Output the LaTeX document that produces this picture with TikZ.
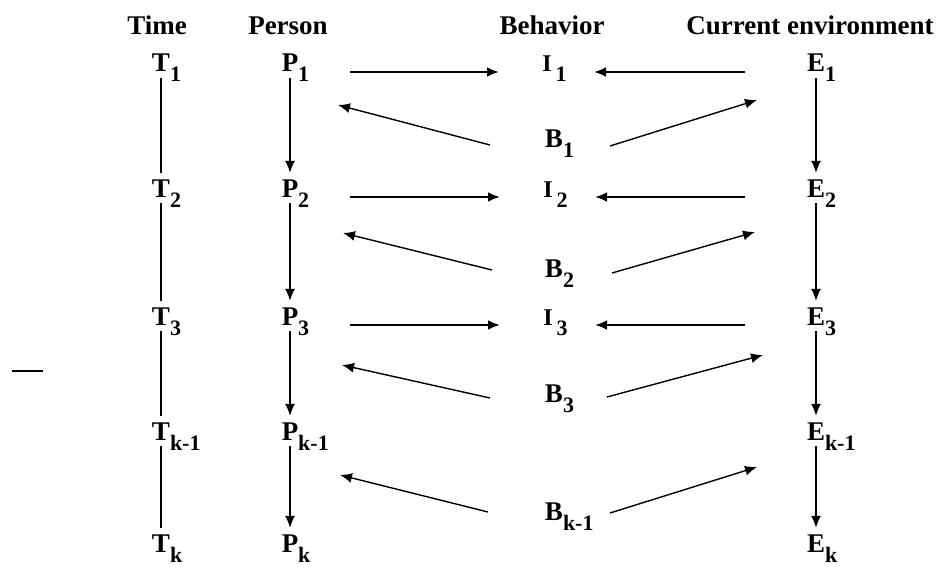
\documentclass[tikz,border=0pt]{standalone}
\usepackage{fontspec}
\setmainfont{Liberation Serif}
\usepackage{tikz}
\usetikzlibrary{arrows.meta}

\newcommand{\lbl}[2]{#1\rlap{\raisebox{-10pt}{\fontsize{22}{22}\selectfont #2}}}

\begin{document}
\begin{tikzpicture}[>={Latex[length=12pt,width=10pt]}, x=1pt, y=-1pt,
    head/.style={anchor=base, inner sep=0pt, font=\fontsize{27}{30}\selectfont\bfseries},
    var/.style={anchor=base, inner sep=0pt, text height=19pt, text depth=0pt,
        font=\fontsize{27}{30}\selectfont\bfseries},
    ivar/.style={var, font=\fontsize{24}{26}\selectfont\bfseries},
    link/.style={line width=1.4pt, shorten <=6pt, shorten >=5pt},
    pi/.style={->, line width=2.4pt, shorten <=60pt, shorten >=50pt},
    ei/.style={->, line width=2.4pt, shorten <=71pt, shorten >=45pt},
    back/.style={->, line width=1.4pt}]
    \useasboundingbox (0,0) rectangle (946,567);

    % 1. Column titles
    \node[head] (hTime) at (157,35) {Time};
    \node[head] (hPerson) at (288,35) {Person};
    \node[head] (hBehavior) at (552,35) {Behavior};
    \node[head] (hEnv) at (810,35) {Current environment};

    % 2. Time
    \node[var] (T1) at (161,72) {\lbl{T}{1}};
    \node[var] (T2) at (161,197) {\lbl{T}{2}};
    \node[var] (T3) at (161,325) {\lbl{T}{3}};
    \node[var] (Tk1) at (161,440) {\lbl{T}{k-1}};
    \node[var] (Tk) at (161,552) {\lbl{T}{k}};

    % 3. Person
    \node[var] (P1) at (290,72) {\lbl{P}{1}};
    \node[var] (P2) at (290,197) {\lbl{P}{2}};
    \node[var] (P3) at (290,325) {\lbl{P}{3}};
    \node[var] (Pk1) at (290,440) {\lbl{P}{k-1}};
    \node[var] (Pk) at (290,552) {\lbl{P}{k}};

    % 4. Behavior
    \node[ivar] (I1) at (549,72) {\lbl{I\,}{1}};
    \node[var] (B1) at (554,148) {\lbl{B}{1}};
    \node[ivar] (I2) at (550,197) {\lbl{I\,}{2}};
    \node[var] (B2) at (554,277) {\lbl{B}{2}};
    \node[ivar] (I3) at (550,325) {\lbl{I\,}{3}};
    \node[var] (B3) at (554,402) {\lbl{B}{3}};
    \node[var] (Bk1) at (554,520) {\lbl{B}{k-1}};

    % 5. Current environment
    \node[var] (E1) at (816,72) {\lbl{E}{1}};
    \node[var] (E2) at (816,197) {\lbl{E}{2}};
    \node[var] (E3) at (816,325) {\lbl{E}{3}};
    \node[var] (Ek1) at (816,440) {\lbl{E}{k-1}};
    \node[var] (Ek) at (816,552) {\lbl{E}{k}};

    % 6. Vertical links
    \draw[link] (T1) -- (T2);
    \draw[link] (T2) -- (T3);
    \draw[link] (T3) -- (Tk1);
    \draw[link] (Tk1) -- (Tk);
    \draw[link, ->] (P1) -- (P2);
    \draw[link, ->] (P2) -- (P3);
    \draw[link, ->] (P3) -- (Pk1);
    \draw[link, ->] (Pk1) -- (Pk);
    \draw[link, ->] (E1) -- (E2);
    \draw[link, ->] (E2) -- (E3);
    \draw[link, ->] (E3) -- (Ek1);
    \draw[link, ->] (Ek1) -- (Ek);

    % 7. Person and environment into behavior
    \draw[pi] (P1.base) -- (I1.base);
    \draw[pi] (P2.base) -- (I2.base);
    \draw[pi] (P3.base) -- (I3.base);
    \draw[ei] (E1.base) -- (I1.base);
    \draw[ei] (E2.base) -- (I2.base);
    \draw[ei] (E3.base) -- (I3.base);

    % 8. Behavior back to person and environment
    \draw[back] ([shift={(-64,-3)}]B1.base) -- ([shift={(-216,-43)}]B1.base);
    \draw[back] ([shift={(56,-2)}]B1.base) -- ([shift={(203,-48)}]B1.base);
    \draw[back] ([shift={(-62,-7)}]B2.base) -- ([shift={(-211,-44)}]B2.base);
    \draw[back] ([shift={(58,-4)}]B2.base) -- ([shift={(201,-45)}]B2.base);
    \draw[back] ([shift={(-64,-4)}]B3.base) -- ([shift={(-212,-37)}]B3.base);
    \draw[back] ([shift={(53,-5)}]B3.base) -- ([shift={(209,-47)}]B3.base);
    \draw[back] ([shift={(-66,-8)}]Bk1.base) -- ([shift={(-214,-45)}]Bk1.base);
    \draw[back] ([shift={(56,-7)}]Bk1.base) -- ([shift={(203,-53)}]Bk1.base);

    % 9. Short mark on the left
    \draw[line width=1.2pt] (12,371) -- (43,371);
\end{tikzpicture}
\end{document}
